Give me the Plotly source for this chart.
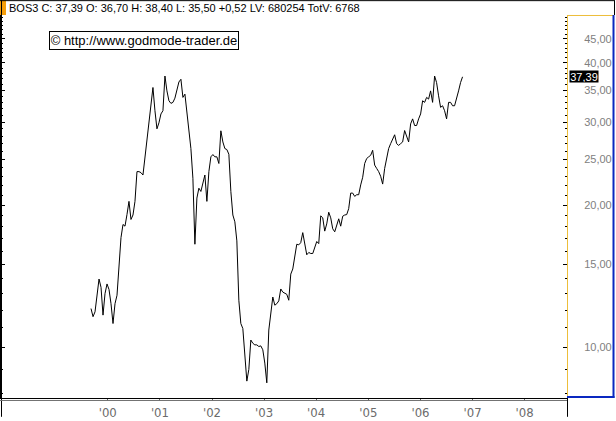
import math
import pandas as pd
import plotly.graph_objects as go

# ---- data (bi-weekly closes) ----
start_date = "1999-09-06"
closes = [
    12.09, 11.62, 11.90, 12.79, 13.96, 13.41, 11.71, 13.00, 13.63, 13.27,
    12.38, 11.24, 12.38, 12.90, 15.02, 17.08, 18.21, 18.06, 19.11, 20.38,
    18.66, 19.07, 20.38, 23.56, 23.56, 23.44, 23.17, 25.32, 27.65, 30.46,
    33.54, 35.49, 31.70, 29.02, 29.88, 31.20, 31.70, 37.53, 34.91, 33.27,
    32.85, 33.01, 33.70, 35.32, 36.46, 36.94, 33.82, 34.36, 31.20, 28.10,
    26.36, 22.81,
    16.54, 20.71, 21.73, 21.39, 22.45, 23.17, 20.38, 23.56, 25.32, 25.60,
    25.32, 25.32, 24.51, 28.74, 27.22, 26.36, 26.23, 25.64, 21.39, 19.07,
    18.45, 16.81, 12.59, 11.24, 10.97, 9.73, 8.49, 8.99, 10.37, 10.21,
    10.13, 10.13, 10.05, 10.08, 9.89, 9.27, 8.42, 10.89, 11.80, 12.79,
    12.29, 12.38, 12.55,
    13.30, 13.10, 13.00, 12.96, 12.59, 14.30, 14.66, 15.63, 16.54, 16.49,
    16.67, 17.50, 16.67, 15.71, 15.89, 15.81, 15.81, 16.33, 16.76, 16.59,
    18.99, 18.81, 17.63, 18.26, 19.33, 18.81, 17.83, 17.57, 18.06, 18.72,
    18.06, 18.96, 19.07, 19.11, 19.67, 21.22, 21.22, 20.88, 21.05, 21.05,
    22.08, 22.92,
    24.51, 25.11, 25.32, 25.51, 26.14, 24.32, 23.93, 23.56, 23.03, 22.17,
    23.93, 25.11, 26.36, 27.00, 27.65, 28.19, 27.00, 26.77, 27.00, 27.22,
    28.78, 28.10, 27.22, 29.73, 30.46, 29.49, 29.49, 30.46, 31.20, 33.27,
    33.01, 33.82, 33.54, 34.91, 33.01, 37.53, 36.35, 34.08, 32.22, 32.47,
    31.70, 30.46, 33.01, 33.01, 32.47, 32.47, 33.54, 34.91, 36.35, 37.39,
]
dates = pd.date_range(start_date, periods=len(closes), freq="14D")

years = list(range(2000, 2009))
year_labels = ["'" + f"{y % 100:02d}" for y in years]
price_ticks = [10, 15, 20, 25, 30, 35, 40, 45]
price_labels = [f"{v:.2f}".replace(".", ",") for v in price_ticks]
minor_ticks = [v for v in range(8, 51) if v not in price_ticks]

symbol = "BOS3"
open_, high, low, change = 36.70, 38.40, 35.50, 0.52
last_volume, total_volume = 680254, 6768
last = closes[-1]


def de(v):
    return f"{v:.2f}".replace(".", ",")


header = (f"{symbol} C: {de(last)} O: {de(open_)} H: {de(high)} L: {de(low)} "
          f"+{de(change)} LV: {last_volume} TotV: {total_volume}")

# ---- layout helpers (pixel -> paper) ----
L, R, T, B = 1, 49, 15, 19
W, H = 616, 421
PW, PH = W - L - R, H - T - B


def px(x):
    return (x - L) / PW


def py(y):
    return (H - B - y) / PH


FONT = "Liberation Sans, Arial, sans-serif"
NARROW = "Liberation Sans Narrow, Arial Narrow, DejaVu Sans Condensed, sans-serif"
YEL = "#EDBE3A"
BLU = "#0A28C0"
YRANGE = [0.8932, 1.7035]

fig = go.Figure()
# invisible helper trace so the left mirror axis is drawn
fig.add_trace(go.Scatter(x=dates, y=closes, mode="lines",
                         line=dict(color="rgba(0,0,0,0)", width=1),
                         hoverinfo="skip", yaxis="y2"))
fig.add_trace(go.Scatter(x=dates, y=closes, mode="lines",
                         line=dict(color="black", width=1),
                         hoverinfo="skip", yaxis="y"))

minor_style = dict(tickvals=minor_ticks, ticks="inside", ticklen=2,
                   tickcolor="black", showgrid=False)

fig.update_layout(
    width=W, height=H,
    margin=dict(l=L, r=R, t=T, b=B, pad=0),
    paper_bgcolor="white", plot_bgcolor="white",
    showlegend=False,
    xaxis=dict(
        type="date", range=["1997-12-14", "2008-10-24"],
        tickvals=[f"{y}-01-01" for y in years], ticktext=year_labels,
        showgrid=False, zeroline=False,
        showline=True, linecolor="black", linewidth=1,
        ticks="outside", ticklen=2, tickcolor="#666666",
        tickfont=dict(family=NARROW, size=13, color="#6b6b6b"),
    ),
    yaxis=dict(
        type="log", range=YRANGE, side="right",
        tickvals=price_ticks, ticktext=price_labels,
        showgrid=False, zeroline=False,
        showline=True, linecolor=YEL, linewidth=1,
        ticks="inside", ticklen=4, tickcolor="black",
        tickfont=dict(family=FONT, size=11, color="#808080"),
        ticklabelstandoff=14,
        minor=minor_style,
    ),
    yaxis2=dict(
        type="log", range=YRANGE, side="left", overlaying="y",
        tickvals=price_ticks, showticklabels=False,
        showgrid=False, zeroline=False,
        showline=True, linecolor="black", linewidth=1,
        ticks="inside", ticklen=4, tickcolor="black",
        minor=minor_style,
    ),
)

shapes = [
    dict(type="rect", xref="paper", yref="paper", x0=px(0), x1=px(6), y0=py(0), y1=py(15),
         fillcolor="#F59E0B", line=dict(width=0)),
    dict(type="line", xref="paper", yref="paper", x0=px(0), x1=px(614.5), y0=py(0.5), y1=py(0.5),
         line=dict(color="black", width=1)),
    dict(type="line", xref="paper", yref="paper", x0=px(614.5), x1=px(614.5), y0=py(0), y1=py(15),
         line=dict(color="black", width=1)),
    dict(type="line", xref="paper", yref="paper", x0=px(1.5), x1=px(1.5), y0=py(0), y1=py(421),
         line=dict(color="black", width=1)),
    dict(type="line", xref="paper", yref="paper", x0=px(0), x1=px(567), y0=py(404.5), y1=py(404.5),
         line=dict(color="#707070", width=1)),
    dict(type="line", xref="paper", yref="paper", x0=px(567.5), x1=px(567.5), y0=py(402), y1=py(421),
         line=dict(color="black", width=1)),
    dict(type="line", xref="paper", yref="paper", x0=px(567.5), x1=px(567.5), y0=py(15), y1=py(401),
         line=dict(color=YEL, width=1)),
    dict(type="line", xref="paper", yref="paper", x0=px(567), x1=px(614), y0=py(15.5), y1=py(15.5),
         line=dict(color=YEL, width=1)),
    dict(type="line", xref="paper", yref="paper", x0=px(613.5), x1=px(613.5), y0=py(15), y1=py(402),
         line=dict(color=BLU, width=2)),
    dict(type="line", xref="paper", yref="paper", x0=px(567), x1=px(614.5), y0=py(401), y1=py(401),
         line=dict(color=BLU, width=2)),
]
fig.update_layout(shapes=shapes)

fig.add_annotation(xref="paper", yref="paper", x=px(7), y=py(7.5),
                   xanchor="left", yanchor="middle", showarrow=False,
                   text=header, font=dict(family=FONT, size=11, color="black"))
fig.add_annotation(xref="paper", yref="paper", x=px(144), y=py(41),
                   xanchor="center", yanchor="middle", showarrow=False,
                   text="© http://www.godmode-trader.de",
                   width=188, height=17, bgcolor="white",
                   bordercolor="black", borderwidth=1, borderpad=0,
                   font=dict(family=FONT, size=13, color="black"))
fig.add_annotation(xref="paper", yref="y", x=1, y=math.log10(last),
                   xanchor="left", yanchor="middle", xshift=2, showarrow=False,
                   text=de(last), width=28, height=11, borderpad=0,
                   bgcolor="black",
                   font=dict(family=FONT, size=11, color="white"))

fig.write_html("out.html",
               config={"displayModeBar": False, "staticPlot": True},
               post_script="document.body.style.margin='0px';"
                           "document.body.style.overflow='hidden';")
